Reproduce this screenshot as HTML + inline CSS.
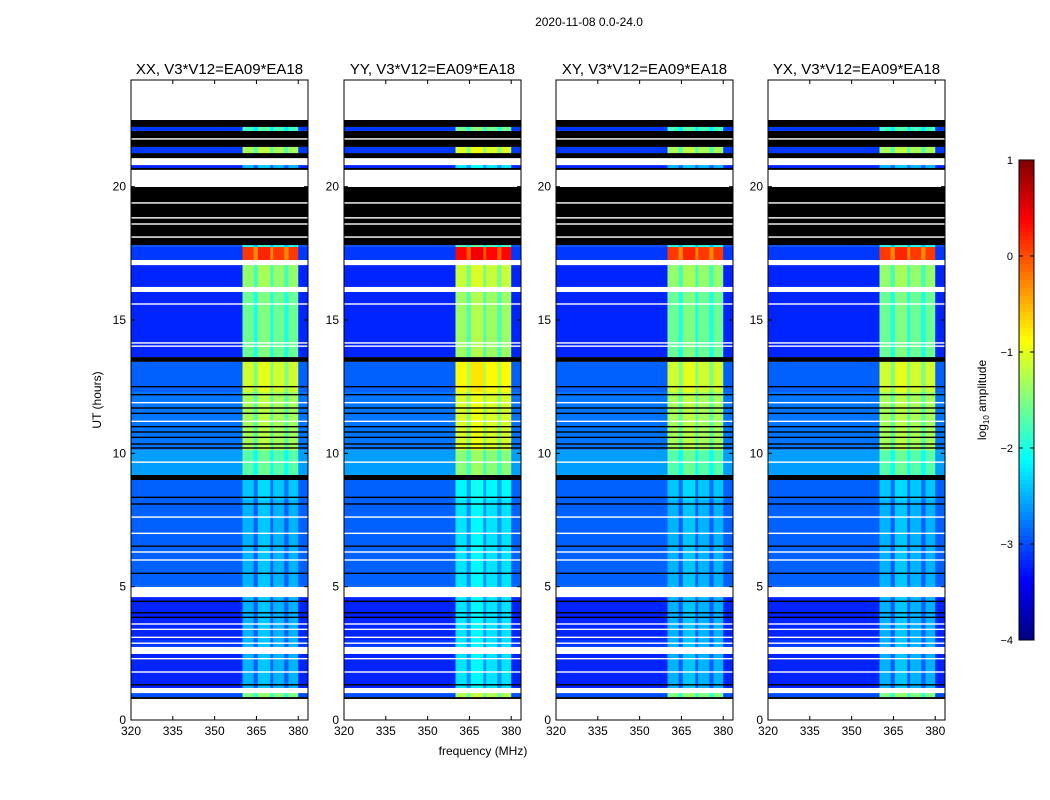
<!DOCTYPE html>
<html><head><meta charset="utf-8">
<style>
html,body{margin:0;padding:0;background:#fff;}
svg{display:block;font-family:"Liberation Sans",sans-serif;}
</style></head>
<body>
<svg id="fig" width="1050" height="800" viewBox="0 0 1050 800" xmlns="http://www.w3.org/2000/svg">
<rect width="1050" height="800" fill="#fff"/>
<text x="589" y="26" font-size="12" text-anchor="middle">2020-11-08 0.0-24.0</text>
<text x="483" y="755" font-size="12" text-anchor="middle">frequency (MHz)</text>
<text transform="translate(101,400) rotate(-90)" font-size="12" text-anchor="middle">UT (hours)</text>
<g id="panels"></g>
<g id="cbar"></g>
</svg>
<script>
// ---- data ----
const panelTitles = ["XX, V3*V12=EA09*EA18","YY, V3*V12=EA09*EA18","XY, V3*V12=EA09*EA18","YX, V3*V12=EA09*EA18"];
const xTicks = [320,335,350,365,380];
const yTicks = [0,5,10,15,20];
const cbarTicks = [1,0,-1,-2,-3,-4];
// time segments: [startHour, endHour, type(d=data,w=flagged white,k=black), background log amp, band log amp]
const segStart = [0,0.79,0.86,1.01,1.2,2.48,2.74,3.0,4.61,4.99,5.06,6.56,8.25,9.0,9.19,10.12,12.3,13.43,13.61,16.05,16.24,17.06,17.25,17.74,17.81,19.99,20.63,20.7,20.81,21.07,21.26,21.49,22.09,22.24,22.5];
const segEnd   = [0.79,0.86,1.01,1.2,2.48,2.74,3.0,4.61,4.99,5.06,6.56,8.25,9.0,9.19,10.12,12.3,13.43,13.61,16.05,16.24,17.06,17.25,17.74,17.81,19.99,20.63,20.7,20.81,21.07,21.26,21.49,22.09,22.24,22.5,24];
const segType  = ["w","k","d","w","d","w","d","d","w","d","d","d","d","k","d","d","d","k","d","w","d","w","d","d","k","w","k","d","w","k","d","k","d","k","w"];
const segBg    = [0,0,-3.0,0,-3.2,0,-3.1,-3.2,0,-2.9,-2.9,-2.9,-2.9,0,-2.6,-2.8,-2.9,0,-3.2,0,-3.2,0,-3.1,-3.0,0,0,0,-3.2,0,0,-3.1,0,-3.1,0,0];
const segBand  = [0,0,-1.5,0,-2.5,0,-2.5,-2.5,0,-2.5,-2.5,-2.5,-2.4,0,-1.7,-1.3,-1.1,0,-1.6,0,-1.4,0,0.1,-2.0,0,0,0,-2.5,0,0,-1.3,0,-1.8,0,0];
// per-panel band brightness shift
const panelShift = [0,0.25,0,0];
// frequency columns within band: start MHz, end MHz, offset (null = background)
const colStart = [320,360,364,365.5,370,371,375,376.5,380];
const colEnd   = [360,364,365.5,370,371,375,376.5,380,383.5];
const colOff   = [null,0,-0.4,0.1,-0.4,0,-0.4,0,null];
// thin lines: hour, type
const lineHour = [1.32,1.8,2.3,2.88,3.1,3.4,3.6,3.85,4.02,4.45,5.5,6.0,6.3,6.52,7.0,7.61,8.1,8.35,9.67,10.2,10.35,10.6,10.8,11.0,11.2,11.5,11.7,11.9,12.2,12.5,14.02,14.14,15.6,18.11,18.6,18.83,19.39,21.79];
const lineType = ["k","w","w","w","w","w","w","k","k","k","k","w","w","k","w","w","k","k","w","k","k","k","k","k","w","k","k","w","k","k","w","w","w","w","w","w","w","w"];

// ---- layout ----
const panelX = [131,344,556,768], PW=177, PT=80, PB=720;
const yOf = h => PB - (h/24)*(PB-PT);
const xOf = (px,f) => px + (f-320)/(383.5-320)*PW;
function jet(v){
  let t=(v+4)/5; t=Math.max(0,Math.min(1,t));
  const c=x=>Math.round(255*Math.max(0,Math.min(1,x)));
  const r=c(Math.min(4*t-1.5,-4*t+4.5)), g=c(Math.min(4*t-0.5,-4*t+3.5)), b=c(Math.min(4*t+0.5,-4*t+2.5));
  return `rgb(${r},${g},${b})`;
}
const NS="http://www.w3.org/2000/svg";
function mk(tag,attrs,parent){const e=document.createElementNS(NS,tag);for(const k in attrs)e.setAttribute(k,attrs[k]);parent.appendChild(e);return e;}
const panels=document.getElementById('panels');
panelX.forEach((px,pi)=>{
  const g=mk('g',{},panels);
  
  
  segStart.forEach((s,si)=>{
    const y1=yOf(segEnd[si]), y2=yOf(s);
    const t=segType[si];
    if(t!=='d'){
      const r=mk('rect',{x:px,y:y1,width:PW,height:y2-y1,fill:t==='w'?'#fff':'#000'},g);
      
      
      return;
    }
    colStart.forEach((cs,ci)=>{
      const v = colOff[ci]===null ? segBg[si] : segBand[si]+colOff[ci]+panelShift[pi];
      const x1=xOf(px,cs), x2=xOf(px,colEnd[ci]);
      const r=mk('rect',{x:x1,y:y1,width:x2-x1+0.3,height:y2-y1,fill:jet(v)},g);
      
      
    });
  });
  lineHour.forEach((h,li)=>{
    const l=mk('rect',{x:px,y:yOf(h)-0.7,width:PW,height:1.4,fill:lineType[li]==='w'?'#fff':'#000'},g);
    
    
  });
  const fr=mk('rect',{x:px,y:PT,width:PW,height:PB-PT,fill:'none',stroke:'#000','stroke-width':1},g);
  
  
  const tt=mk('text',{x:px+PW/2,y:74,'font-size':15,'text-anchor':'middle'},g);
  tt.textContent=panelTitles[pi];
  
  
  xTicks.forEach(f=>{
    const x=xOf(px,f);
    mk('line',{x1:x,x2:x,y1:PB,y2:PB-4,stroke:'#000'},g);
    mk('line',{x1:x,x2:x,y1:PT,y2:PT+4,stroke:'#000'},g);
    const t=mk('text',{x:x,y:PB+15,'font-size':12,'text-anchor':'middle'},g);
    t.textContent=f;
    
    
  });
  yTicks.forEach(h=>{
    const y=yOf(h);
    mk('line',{x1:px,x2:px+4,y1:y,y2:y,stroke:'#000'},g);
    mk('line',{x1:px+PW,x2:px+PW-4,y1:y,y2:y,stroke:'#000'},g);
    const t=mk('text',{x:px-5,y:y+4,'font-size':12,'text-anchor':'end'},g);
    t.textContent=h;
    
    
  });
});
// colorbar
const cb=document.getElementById('cbar');


const CX=1019,CW=15,CT=160,CB=640;
for(let i=0;i<120;i++){
  const v=1-(i+0.5)/120*5;
  mk('rect',{x:CX,y:CT+i*4,width:CW,height:4.3,fill:jet(v)},cb);
}
mk('rect',{x:CX,y:CT,width:CW,height:CB-CT,fill:'none',stroke:'#000'},cb);
cbarTicks.forEach(v=>{
  const y=CT+(1-v)/5*(CB-CT);
  mk('line',{x1:CX,x2:CX+4,y1:y,y2:y,stroke:'#000'},cb);
  mk('line',{x1:CX+CW,x2:CX+CW-4,y1:y,y2:y,stroke:'#000'},cb);
  const t=mk('text',{x:CX-6,y:y+4,'font-size':11,'text-anchor':'end'},cb);
  t.textContent=(v<0?'\u2212'+(-v):v);
  
  
});
const cl=mk('text',{transform:'translate(986,400) rotate(-90)','font-size':12,'text-anchor':'middle'},cb);
cl.innerHTML='log<tspan font-size="8" dy="3">10</tspan><tspan dy="-3"> amplitude</tspan>';


</script>
</body></html>
